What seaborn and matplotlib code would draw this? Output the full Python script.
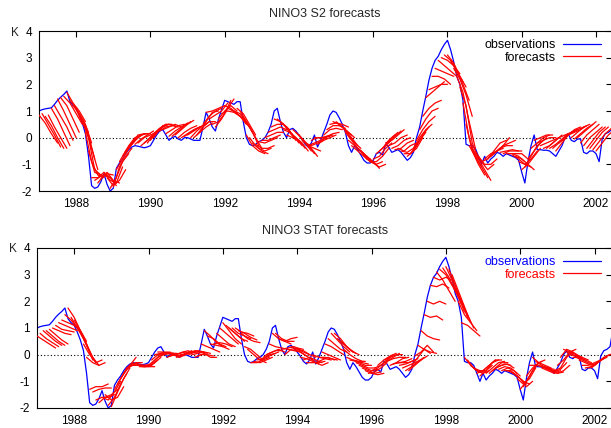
import numpy as np
import pandas as pd
import matplotlib
matplotlib.use("Agg")
import matplotlib.pyplot as plt
from matplotlib.lines import Line2D
import seaborn as sns

# ---------------- data ----------------
obs_first_year = 1987.0
# monthly NINO3 anomaly observations, Jan 1987 ...
obs_vals = [
    1.00, 1.05, 1.08, 1.10, 1.12, 1.25, 1.40, 1.52, 1.62, 1.75, 1.35, 1.20,      # 1987
    1.10, 0.85, 0.55, 0.15, -0.70, -1.80, -1.90, -1.85, -1.65, -1.35, -1.75, -2.00,  # 1988
    -1.90, -1.15, -0.95, -0.80, -0.60, -0.45, -0.35, -0.30, -0.32, -0.35, -0.38, -0.35,  # 1989
    -0.30, -0.10, 0.10, 0.25, 0.30, 0.10, -0.10, 0.00, 0.05, -0.05, -0.10, 0.00,   # 1990
    0.00, -0.05, -0.10, -0.10, -0.10, 0.40, 0.95, 0.70, 0.40, 0.25, 0.70, 1.05,    # 1991
    1.40, 1.35, 1.30, 1.25, 1.35, 1.35, 0.60, 0.00, -0.25, -0.30, -0.25, -0.15,   # 1992
    -0.10, 0.00, 0.20, 0.50, 1.00, 1.10, 0.60, 0.20, 0.00, 0.30, 0.35, 0.25,      # 1993
    0.10, -0.05, -0.25, -0.35, -0.20, 0.10, -0.35, -0.10, 0.20, 0.50, 0.85, 1.00,  # 1994
    0.95, 0.75, 0.50, 0.20, -0.30, -0.55, -0.30, -0.45, -0.65, -0.85, -0.95, -0.95,  # 1995
    -0.85, -0.60, -0.55, -0.65, -0.25, -0.35, -0.55, -0.50, -0.45, -0.55, -0.70, -0.85,  # 1996
    -0.75, -0.55, 0.00, 0.40, 1.00, 1.55, 2.15, 2.60, 2.90, 3.05, 3.30, 3.50,     # 1997
    3.65, 3.30, 2.85, 2.30, 2.00, 1.40, -0.25, -0.30, -0.30, -0.40, -0.70, -1.00,  # 1998
    -0.70, -0.95, -0.80, -0.70, -0.55, -0.60, -0.70, -0.60, -0.65, -0.70, -0.75, -0.85,  # 1999
    -1.30, -1.70, -0.90, -0.30, 0.10, -0.45, -0.45, -0.47, -0.47, -0.50, -0.60, -0.70,  # 2000
    -0.50, -0.30, 0.00, 0.15, -0.10, -0.15, -0.05, -0.05, -0.55, -0.60, -0.50, -0.50,  # 2001
    -0.60, -0.90, -0.05, 0.15, 0.20, 0.30, 1.00,                                   # 2002
]

# forecasts: start month (months since Jan 1987) and values at lead 0, 2, 4, 6 months
fc_leads = [0, 2, 4, 6]
fc_start_even = list(range(0, 182, 2))
fc_start_odd = list(range(1, 181, 2))

s2_fc_even = [
    [0.85, 0.55, 0.15, -0.20], [0.80, 0.45, 0.00, -0.40], [1.10, 0.70, 0.20, -0.30],
    [1.45, 1.00, 0.50, 0.00], [1.55, 1.30, 0.90, 0.50], [1.40, 1.10, 0.70, 0.20],
    [1.05, 0.60, 0.10, -0.80], [0.60, 0.00, -1.20, -1.40], [-0.50, -1.30, -1.40, -1.45],
    [-1.60, -1.45, -1.35, -1.40], [-1.55, -1.30, -1.60, -1.70], [-1.50, -1.80, -1.60, -1.20],
    [-1.85, -1.10, -0.70, -0.40], [-0.90, -0.50, -0.20, 0.00], [-0.55, -0.20, 0.10, 0.15],
    [-0.25, 0.00, 0.15, 0.15], [-0.20, 0.00, 0.10, 0.20], [-0.20, 0.00, 0.20, 0.40],
    [-0.10, 0.20, 0.40, 0.50], [0.20, 0.45, 0.50, 0.45], [0.30, 0.40, 0.50, 0.40],
    [0.05, 0.25, 0.40, 0.55], [0.10, 0.30, 0.50, 0.65], [0.00, 0.15, 0.30, 0.40],
    [0.10, 0.25, 0.40, 0.50], [0.00, 0.20, 0.40, 0.55], [0.20, 0.60, 0.95, 1.00],
    [0.95, 1.00, 1.10, 1.20], [0.50, 0.60, 0.90, 1.40], [0.70, 1.00, 1.20, 1.00],
    [1.20, 1.10, 0.90, 0.70], [1.05, 0.90, 0.70, 0.40], [1.10, 0.90, 0.50, 0.10],
    [0.70, 0.40, 0.00, -0.40], [0.00, -0.30, -0.50, -0.60], [-0.25, -0.40, -0.40, -0.30],
    [-0.10, -0.10, 0.00, 0.10], [0.20, 0.30, 0.40, 0.30], [0.70, 0.60, 0.40, 0.10],
    [0.60, 0.40, 0.10, -0.20], [0.10, 0.00, -0.10, -0.40], [0.30, 0.10, -0.20, -0.50],
    [0.10, -0.15, -0.40, -0.70], [-0.20, -0.30, -0.20, -0.10], [-0.10, 0.00, 0.00, 0.05],
    [-0.25, -0.10, 0.00, 0.10], [0.10, 0.30, 0.35, 0.30], [0.50, 0.55, 0.50, 0.40],
    [0.60, 0.40, 0.20, 0.00], [0.40, 0.10, -0.20, -0.40], [-0.10, -0.30, -0.50, -0.80],
    [-0.30, -0.50, -0.80, -0.90], [-0.50, -0.70, -0.90, -1.15], [-0.80, -0.95, -1.10, -1.00],
    [-0.80, -0.70, -0.40, -0.20], [-0.50, -0.30, 0.00, 0.20], [-0.20, -0.10, 0.10, 0.30],
    [-0.40, -0.30, -0.10, 0.00], [-0.40, -0.50, -0.30, -0.20], [-0.60, -0.60, -0.40, 0.00],
    [-0.60, -0.30, 0.10, 0.40], [-0.10, 0.30, 0.60, 0.80], [0.80, 1.10, 1.30, 1.40],
    [1.80, 1.90, 2.00, 2.00], [2.60, 2.50, 2.40, 2.30], [3.00, 2.90, 2.70, 2.40],
    [3.10, 2.80, 2.30, 1.90], [2.60, 2.20, 1.60, 0.80], [1.90, 1.20, -0.20, -0.80],
    [0.50, -0.50, -1.00, -1.40], [-0.40, -0.80, -1.20, -1.60], [-0.70, -1.00, -1.00, -0.80],
    [-0.80, -0.60, -0.50, -0.40], [-0.70, -0.50, -0.30, 0.00], [-0.50, -0.30, -0.20, -0.10],
    [-0.60, -0.50, -0.50, -0.50], [-0.60, -0.60, -0.60, -0.80], [-0.70, -0.80, -1.00, -1.20],
    [-1.20, -1.00, -0.70, -0.40], [-0.80, -0.50, -0.20, 0.00], [-0.10, 0.00, 0.10, 0.10],
    [-0.30, -0.20, -0.10, 0.00], [-0.40, -0.20, 0.00, 0.10], [-0.40, -0.20, 0.00, 0.20],
    [-0.20, 0.00, 0.20, 0.30], [0.10, 0.20, 0.30, 0.40], [0.00, 0.20, 0.40, 0.50],
    [0.00, 0.20, 0.40, 0.60], [-0.30, 0.00, 0.20, 0.40], [-0.40, -0.10, 0.20, 0.40],
    [-0.50, -0.20, 0.10, 0.30],
]

s2_fc_odd = [
    [0.90, 0.50, 0.10, -0.35], [0.85, 0.40, 0.00, -0.40], [1.20, 0.80, 0.40, -0.10],
    [1.50, 1.20, 0.70, 0.20], [1.70, 1.30, 1.00, 0.60], [1.20, 0.90, 0.50, -0.20],
    [0.80, 0.40, -0.40, -1.20], [0.20, -0.90, -1.40, -1.50], [-1.50, -1.50, -1.30, -1.50],
    [-1.70, -1.40, -1.50, -1.80], [-1.30, -1.60, -1.70, -1.10], [-1.90, -1.50, -0.90, -0.60],
    [-1.20, -0.80, -0.40, -0.10], [-0.70, -0.30, 0.00, 0.10], [-0.40, -0.10, 0.10, 0.15],
    [-0.25, -0.05, 0.10, 0.25], [-0.30, -0.10, 0.15, 0.35], [-0.20, 0.10, 0.35, 0.50],
    [0.00, 0.30, 0.50, 0.50], [0.25, 0.40, 0.45, 0.40], [0.15, 0.30, 0.45, 0.50],
    [0.05, 0.25, 0.45, 0.60], [0.00, 0.20, 0.35, 0.45], [0.05, 0.20, 0.35, 0.45],
    [0.00, 0.25, 0.45, 0.60], [0.10, 0.40, 0.60, 0.60], [0.50, 0.80, 1.00, 1.10],
    [0.70, 0.85, 1.00, 1.30], [0.40, 0.70, 1.10, 1.45], [0.90, 1.00, 0.95, 0.80],
    [1.10, 1.00, 0.80, 0.50], [1.00, 0.90, 0.60, 0.20], [1.00, 0.60, 0.20, -0.30],
    [0.10, -0.30, -0.50, -0.60], [-0.20, -0.40, -0.50, -0.40], [-0.15, -0.20, -0.10, 0.00],
    [0.00, 0.10, 0.20, 0.20], [0.40, 0.50, 0.50, 0.30], [0.70, 0.50, 0.20, -0.10],
    [0.30, 0.20, 0.00, -0.30], [0.20, 0.00, -0.20, -0.50], [0.20, -0.05, -0.30, -0.60],
    [-0.10, -0.30, -0.40, -0.50], [-0.30, -0.20, -0.10, 0.00], [0.00, 0.00, 0.05, 0.10],
    [-0.10, 0.05, 0.15, 0.20], [0.30, 0.45, 0.45, 0.35], [0.60, 0.50, 0.30, 0.10],
    [0.50, 0.30, 0.00, -0.30], [0.20, -0.10, -0.40, -0.60], [-0.30, -0.50, -0.70, -0.80],
    [-0.40, -0.60, -0.85, -1.00], [-0.70, -0.90, -1.00, -0.90], [-0.90, -0.90, -0.70, -0.40],
    [-0.60, -0.40, -0.10, 0.10], [-0.40, -0.20, 0.05, 0.25], [-0.30, -0.20, 0.00, 0.10],
    [-0.45, -0.40, -0.20, -0.10], [-0.50, -0.55, -0.40, -0.10], [-0.70, -0.50, -0.10, 0.20],
    [-0.40, 0.00, 0.30, 0.50], [0.30, 0.70, 1.00, 1.10], [1.50, 1.70, 1.90, 2.10],
    [2.30, 2.30, 2.20, 2.00], [2.90, 2.70, 2.50, 2.30], [3.10, 2.90, 2.50, 2.10],
    [2.90, 2.50, 2.00, 1.40], [2.30, 1.70, 0.60, -0.40], [1.30, 0.00, -0.70, -1.10],
    [-0.30, -0.70, -1.10, -1.50], [-0.50, -0.90, -1.20, -1.00], [-0.90, -0.80, -0.60, -0.40],
    [-0.80, -0.50, -0.20, -0.10], [-0.60, -0.40, -0.30, -0.30], [-0.55, -0.50, -0.45, -0.50],
    [-0.60, -0.60, -0.70, -0.90], [-0.65, -0.80, -1.00, -1.10], [-0.90, -1.00, -0.80, -0.50],
    [-1.10, -0.70, -0.30, -0.10], [-0.40, -0.20, 0.00, 0.10], [-0.20, -0.10, 0.00, 0.00],
    [-0.40, -0.30, -0.10, 0.10], [-0.40, -0.25, -0.05, 0.15], [-0.50, -0.20, 0.10, 0.25],
    [-0.10, 0.10, 0.30, 0.40], [0.10, 0.20, 0.30, 0.45], [-0.05, 0.15, 0.35, 0.50],
    [-0.20, 0.10, 0.30, 0.50], [-0.40, -0.10, 0.20, 0.40], [-0.45, -0.15, 0.15, 0.35],
]

stat_fc_even = [
    [0.70, 0.55, 0.40, 0.25], [0.90, 0.70, 0.50, 0.35], [0.95, 0.75, 0.55, 0.40],
    [1.10, 0.95, 0.90, 0.85], [1.30, 1.20, 1.10, 0.90], [1.75, 1.40, 0.90, 0.50],
    [1.30, 0.90, 0.40, -0.20], [0.90, 0.40, -0.10, -0.40], [-0.10, -0.30, -0.40, -0.30],
    [-1.40, -1.30, -1.25, -1.25], [-1.80, -1.60, -1.50, -1.30], [-1.50, -1.70, -1.60, -1.20],
    [-1.95, -1.40, -0.90, -0.50], [-1.10, -0.70, -0.40, -0.10], [-0.70, -0.40, -0.30, -0.30],
    [-0.40, -0.35, -0.40, -0.40], [-0.40, -0.40, -0.45, -0.45], [-0.45, -0.45, -0.30, -0.10],
    [-0.40, -0.20, 0.00, 0.05], [0.00, 0.05, 0.10, 0.05], [0.05, 0.05, 0.00, -0.10],
    [-0.10, 0.00, 0.05, 0.10], [0.00, -0.05, 0.05, 0.15], [-0.10, 0.00, 0.10, 0.05],
    [0.05, 0.10, 0.15, 0.10], [0.00, 0.05, 0.10, 0.05], [-0.05, 0.05, -0.10, -0.10],
    [0.90, 0.70, 0.45, 0.30], [0.40, 0.35, 0.30, 0.20], [0.80, 0.60, 0.40, 0.30],
    [1.20, 0.90, 0.60, 0.40], [1.00, 0.80, 0.60, 0.50], [1.00, 0.85, 0.80, 0.70],
    [0.80, 0.60, 0.50, 0.45], [0.20, 0.00, -0.20, -0.30], [-0.25, -0.30, -0.20, -0.10],
    [-0.20, -0.10, 0.00, 0.10], [0.00, 0.10, 0.20, 0.10], [0.80, 0.60, 0.50, 0.40],
    [0.60, 0.50, 0.60, 0.65], [0.00, 0.20, 0.25, 0.20], [0.30, 0.20, 0.10, 0.00],
    [0.20, 0.15, 0.00, -0.10], [-0.20, -0.10, -0.20, -0.30], [-0.10, -0.30, -0.40, -0.30],
    [-0.30, -0.20, -0.10, -0.20], [0.10, 0.00, -0.10, -0.20], [0.60, 0.40, 0.20, 0.10],
    [0.80, 0.60, 0.30, 0.10], [0.50, 0.30, 0.10, 0.00], [-0.10, -0.20, -0.25, -0.25],
    [-0.20, -0.30, -0.40, -0.40], [-0.40, -0.50, -0.60, -0.55], [-0.60, -0.70, -0.75, -0.70],
    [-0.60, -0.50, -0.30, -0.10], [-0.40, -0.20, -0.05, 0.05], [-0.20, -0.10, 0.00, 0.00],
    [-0.40, -0.30, -0.15, -0.10], [-0.30, -0.30, -0.30, -0.20], [-0.50, -0.40, -0.30, -0.20],
    [-0.60, -0.40, -0.20, -0.05], [-0.05, 0.10, 0.35, 0.10], [0.90, 0.70, 0.60, 0.55],
    [2.00, 1.90, 2.00, 1.90], [2.90, 2.80, 2.90, 2.80], [3.20, 3.00, 2.60, 2.20],
    [3.30, 2.80, 2.20, 1.60], [3.00, 2.40, 1.80, 1.20], [2.00, 1.50, 1.20, 0.90],
    [-0.10, -0.40, -0.60, -0.70], [-0.40, -0.60, -0.70, -0.60], [-0.70, -0.60, -0.40, -0.20],
    [-0.60, -0.40, -0.20, -0.20], [-0.70, -0.50, -0.30, -0.30], [-0.50, -0.40, -0.35, -0.50],
    [-0.60, -0.50, -0.60, -0.80], [-0.60, -0.70, -0.90, -1.10], [-0.70, -0.90, -1.20, -1.00],
    [-1.30, -1.00, -0.60, -0.30], [-0.80, -0.50, -0.30, -0.20], [-0.10, -0.30, -0.40, -0.50],
    [-0.40, -0.50, -0.60, -0.60], [-0.50, -0.60, -0.70, -0.65], [-0.55, -0.70, -0.60, -0.40],
    [-0.40, -0.20, 0.10, 0.20], [0.20, 0.10, 0.00, -0.10], [0.00, -0.05, -0.10, -0.20],
    [-0.10, -0.20, -0.30, -0.40], [-0.40, -0.40, -0.30, -0.20], [-0.50, -0.40, -0.20, -0.10],
    [-0.40, -0.20, -0.05, 0.05],
]

stat_fc_odd = [
    [0.80, 0.60, 0.45, 0.30], [0.90, 0.70, 0.50, 0.35], [1.00, 0.90, 0.80, 0.75],
    [1.20, 1.10, 1.00, 0.90], [1.50, 1.30, 1.00, 0.70], [1.40, 1.00, 0.60, 0.10],
    [1.10, 0.60, 0.10, -0.30], [0.40, 0.00, -0.30, -0.20], [-1.30, -1.20, -1.20, -1.10],
    [-1.70, -1.60, -1.60, -1.50], [-1.60, -1.70, -1.40, -1.00], [-1.90, -1.60, -1.10, -0.70],
    [-1.30, -0.90, -0.50, -0.30], [-0.90, -0.55, -0.35, -0.30], [-0.50, -0.40, -0.40, -0.40],
    [-0.40, -0.40, -0.45, -0.40], [-0.45, -0.45, -0.40, -0.20], [-0.40, -0.35, -0.10, 0.00],
    [-0.20, 0.00, 0.05, 0.10], [0.10, 0.10, 0.05, 0.00], [0.00, 0.05, 0.05, 0.00],
    [-0.05, 0.00, 0.10, 0.15], [-0.10, 0.00, 0.10, 0.10], [0.00, 0.05, 0.15, 0.10],
    [0.00, 0.10, 0.10, 0.05], [-0.10, 0.00, 0.00, -0.05], [0.40, 0.30, 0.20, 0.10],
    [0.70, 0.60, 0.40, 0.30], [0.40, 0.45, 0.40, 0.30], [1.00, 0.80, 0.60, 0.40],
    [1.10, 0.90, 0.70, 0.50], [1.00, 0.80, 0.70, 0.60], [0.90, 0.80, 0.65, 0.55],
    [0.30, 0.20, 0.00, -0.20], [-0.30, -0.30, -0.20, -0.10], [-0.20, -0.15, 0.00, 0.05],
    [-0.10, 0.05, 0.15, 0.15], [0.40, 0.30, 0.25, 0.20], [0.80, 0.60, 0.50, 0.50],
    [0.20, 0.25, 0.30, 0.20], [0.20, 0.15, 0.10, -0.05], [0.20, 0.10, -0.05, -0.20],
    [-0.10, -0.15, -0.25, -0.35], [-0.30, -0.30, -0.30, -0.25], [0.00, -0.10, -0.15, -0.20],
    [-0.10, -0.10, -0.15, -0.20], [0.40, 0.30, 0.15, 0.00], [0.80, 0.55, 0.30, 0.10],
    [0.60, 0.40, 0.20, 0.05], [0.20, 0.00, -0.15, -0.25], [-0.20, -0.25, -0.30, -0.35],
    [-0.30, -0.40, -0.50, -0.50], [-0.50, -0.60, -0.70, -0.65], [-0.70, -0.65, -0.50, -0.30],
    [-0.50, -0.40, -0.20, 0.00], [-0.40, -0.25, -0.10, 0.05], [-0.25, -0.15, -0.10, -0.10],
    [-0.35, -0.30, -0.25, -0.15], [-0.40, -0.35, -0.25, -0.15], [-0.60, -0.45, -0.25, -0.10],
    [-0.40, -0.10, 0.20, 0.05], [0.35, 0.20, 0.10, 0.05], [1.50, 1.40, 1.45, 1.30],
    [2.60, 2.55, 2.65, 2.50], [3.10, 2.80, 2.40, 2.00], [3.25, 2.90, 2.40, 1.90],
    [3.20, 2.60, 2.00, 1.40], [2.50, 2.00, 1.50, 1.00], [1.20, 1.10, 0.90, 0.70],
    [-0.20, -0.50, -0.60, -0.60], [-0.50, -0.65, -0.60, -0.40], [-0.80, -0.60, -0.30, -0.20],
    [-0.70, -0.50, -0.30, -0.25], [-0.60, -0.45, -0.35, -0.40], [-0.55, -0.45, -0.50, -0.70],
    [-0.60, -0.60, -0.80, -1.00], [-0.65, -0.80, -1.00, -1.10], [-0.90, -1.10, -0.90, -0.50],
    [-1.20, -0.80, -0.40, -0.25], [-0.40, -0.40, -0.45, -0.50], [-0.25, -0.40, -0.50, -0.55],
    [-0.50, -0.60, -0.70, -0.60], [-0.50, -0.65, -0.55, -0.30], [-0.60, -0.50, -0.10, 0.10],
    [-0.10, 0.20, 0.10, -0.05], [0.10, 0.00, -0.10, -0.20], [-0.10, -0.10, -0.20, -0.30],
    [-0.20, -0.30, -0.40, -0.30], [-0.50, -0.45, -0.30, -0.15], [-0.50, -0.30, -0.10, 0.00],
]

titles = ["NINO3 S2 forecasts", "NINO3 STAT forecasts"]
x_ticks = [1988, 1990, 1992, 1994, 1996, 1998, 2000, 2002]
y_ticks = [-2, -1, 0, 1, 2, 3, 4]

# ---------------- build tables ----------------
obs_df = pd.DataFrame({
    "t": obs_first_year + np.arange(len(obs_vals)) / 12.0,
    "v": obs_vals,
})


def fc_table(fc_even, fc_odd):
    rows = []
    fid = 0
    for starts, fcs in ((fc_start_even, fc_even), (fc_start_odd, fc_odd)):
        for m0, vals in zip(starts, fcs):
            for lead, v in zip(fc_leads, vals):
                rows.append((fid, obs_first_year + (m0 + lead) / 12.0, v))
            fid += 1
    return pd.DataFrame(rows, columns=["fid", "t", "v"])


# ---------------- plot ----------------
sns.set_theme(style="white")
plt.rcParams["font.family"] = ["Liberation Sans", "DejaVu Sans"]
plt.rcParams["axes.unicode_minus"] = False

W, H = 611, 428
fig = plt.figure(figsize=(W / 100, H / 100), dpi=100)

panels = [
    dict(left=39, top=31, bottom=191, fc=(s2_fc_even, s2_fc_odd),
         legend_colors=["black", "black"], xmax=2002.43),
    dict(left=37, top=248, bottom=408, fc=(stat_fc_even, stat_fc_odd),
         legend_colors=["#0000ff", "#ff0000"], xmax=2002.47),
]

for p, title in zip(panels, titles):
    axw = (W + 1 - p["left"])
    ax = fig.add_axes([p["left"] / W, 1 - p["bottom"] / H,
                       axw / W, (p["bottom"] - p["top"]) / H])
    ax.axhline(0, color="black", lw=0.8, ls=(0, (1, 2)), zorder=1)
    sns.lineplot(data=fc_table(*p["fc"]), x="t", y="v", units="fid", estimator=None,
                 color="#ff0000", lw=0.9, ax=ax, zorder=3, legend=False)
    sns.lineplot(data=obs_df, x="t", y="v", color="#0000ff", lw=0.9, ax=ax,
                 zorder=2, legend=False)
    ax.set_xlim(1987.0, p["xmax"])
    ax.set_ylim(-2, 4)
    ax.set_xticks(x_ticks)
    ax.set_yticks(y_ticks)
    ax.set_xlabel("")
    ax.set_ylabel("")
    ax.tick_params(direction="in", top=True, right=True, length=4, width=0.8,
                   labelsize=8.5, colors="black", pad=5)
    for s in ax.spines.values():
        s.set_color("black")
        s.set_linewidth(0.8)
    ax.set_title(title, fontsize=9, pad=10, x=(325 - p["left"]) / axw)
    ax.text(-20 / axw, 1.0, "K", transform=ax.transAxes, ha="right",
            va="center_baseline", fontsize=8.5)
    handles = [Line2D([], [], color="#0000ff", lw=0.9),
               Line2D([], [], color="#ff0000", lw=0.9)]
    ax.legend(handles, ["observations", "forecasts"], loc="upper right",
              bbox_to_anchor=((609 - p["left"]) / axw, 1.0),
              frameon=False, markerfirst=False, fontsize=9, handlelength=3.0,
              labelspacing=0.05, handletextpad=0.6, borderaxespad=0.25,
              labelcolor=p["legend_colors"])

fig.savefig("out.png", dpi=100)
